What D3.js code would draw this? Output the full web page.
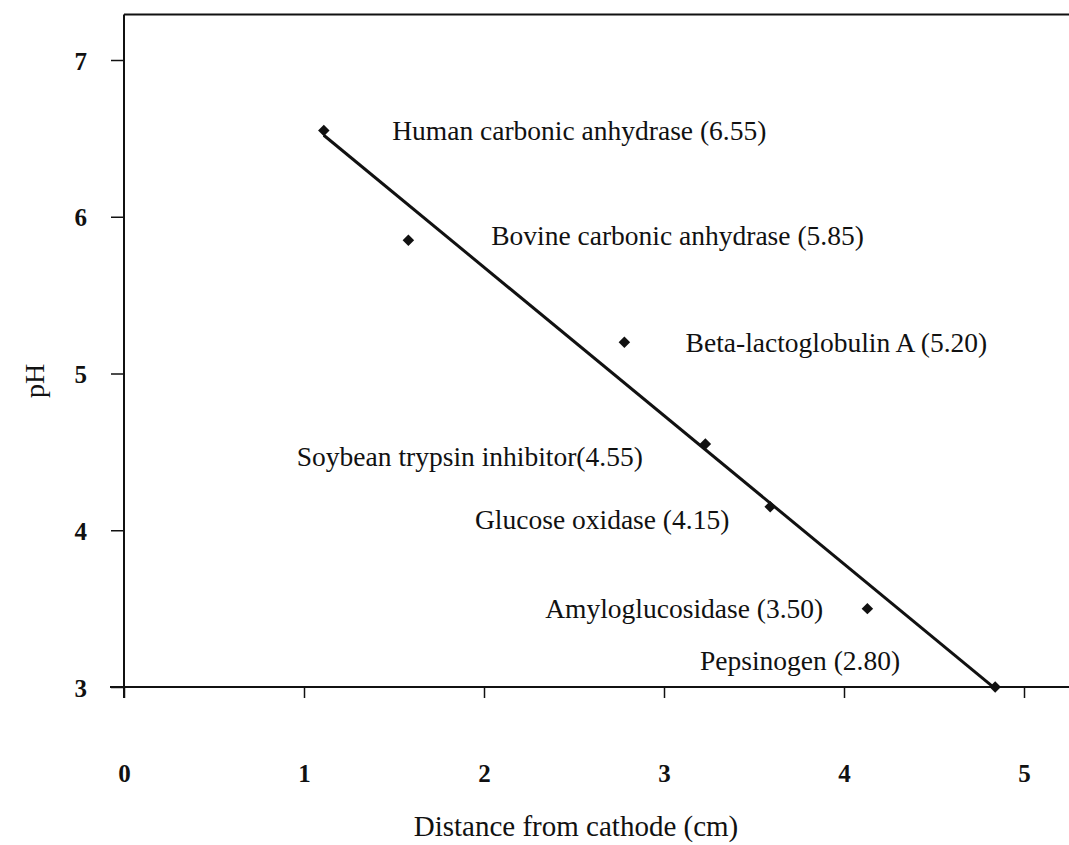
<!DOCTYPE html>
<html>
<head>
<meta charset="utf-8">
<script src="https://cdn.jsdelivr.net/npm/d3@7/dist/d3.min.js"></script>
<style>
  body { margin: 0; background: #fff; }
  svg { display: block; }
  text { font-family: "Liberation Serif", "Times New Roman", serif; fill: #111; }
  .tick text { font-weight: bold; font-size: 25px; }
</style>
</head>
<body>
<div id="chart"></div>
<script>
// proteins (pI standards)
var proteins = ['Human carbonic anhydrase', 'Bovine carbonic anhydrase', 'Beta-lactoglobulin A',
                'Soybean trypsin inhibitor', 'Glucose oxidase', 'Amyloglucosidase', 'Pepsinogen'];
var labelPI = ['6.55', '5.85', '5.20', '4.55', '4.15', '3.50', '2.80'];
var distance = [1.11, 1.58, 2.78, 3.23, 3.59, 4.13, 4.84];   // cm
var plotPH = [6.55, 5.85, 5.20, 4.55, 4.15, 3.50, 3.00];     // where the marker sits
// fitted line, ends
var fitX = [1.11, 4.84];
var fitY = [6.52, 2.99];
// label anchors in data units (left end of the text)
var labelX = [1.49, 2.04, 3.12, 0.96, 1.95, 2.34, 3.20];
var labelY = [6.55, 5.88, 5.20, 4.47, 4.07, 3.50, 3.17];
var xTicks = [0, 1, 2, 3, 4, 5];
var yTicks = [3, 4, 5, 6, 7];

var width = 1069, height = 845;
var margin = {top: 60, left: 124, right: 45, bottom: 158};

var svg = d3.select('#chart').append('svg')
    .attr('width', width)
    .attr('height', height);

var x = d3.scaleLinear().domain([0, 5]).range([margin.left, width - margin.right]);
var y = d3.scaleLinear().domain([3, 7]).range([height - margin.bottom, margin.top]);

// frame: top rule
svg.append('line')
    .attr('x1', x(0)).attr('x2', width)
    .attr('y1', y(7.29)).attr('y2', y(7.29))
    .attr('stroke', '#111').attr('stroke-width', 2);

// x axis on pH 3
var xAxis = svg.append('g')
    .attr('transform', 'translate(0,' + y(3) + ')')
    .call(d3.axisBottom(x).tickValues(xTicks).tickFormat(d3.format('d'))
        .tickSize(11).tickPadding(66).tickSizeOuter(0));
xAxis.select('.domain').remove();
xAxis.append('line')
    .attr('x1', x(0) - 14).attr('x2', width)
    .attr('stroke', '#111').attr('stroke-width', 2);
xAxis.selectAll('.tick line').attr('stroke', '#111').attr('stroke-width', 1.5);

// y axis
var yAxis = svg.append('g')
    .attr('transform', 'translate(' + x(0) + ',0)')
    .call(d3.axisLeft(y).tickValues(yTicks).tickFormat(d3.format('d'))
        .tickSize(13).tickPadding(24).tickSizeOuter(0));
yAxis.select('.domain').remove();
yAxis.append('line')
    .attr('y1', y(7.29)).attr('y2', y(3) + 11)
    .attr('stroke', '#111').attr('stroke-width', 2);
yAxis.selectAll('.tick line').attr('stroke', '#111').attr('stroke-width', 1.5);
yAxis.selectAll('.tick text').attr('dy', '0.36em');

// fitted line
svg.append('path')
    .datum(d3.zip(fitX, fitY))
    .attr('fill', 'none')
    .attr('stroke', '#111')
    .attr('stroke-width', 3)
    .attr('d', d3.line().x(function(d){ return x(d[0]); }).y(function(d){ return y(d[1]); }));

// markers: small square diamonds
svg.selectAll('.pt')
    .data(distance)
    .enter().append('path')
    .attr('class', 'pt')
    .attr('transform', function(d, i){
        return 'translate(' + x(d) + ',' + y(plotPH[i]) + ') rotate(45)';
    })
    .attr('d', d3.symbol().type(d3.symbolSquare).size(66))
    .attr('fill', '#111');

// protein labels
svg.selectAll('.lbl')
    .data(proteins)
    .enter().append('text')
    .attr('class', 'lbl')
    .attr('x', function(d, i){ return x(labelX[i]); })
    .attr('y', function(d, i){ return y(labelY[i]); })
    .attr('dy', '0.35em')
    .style('font-size', '27.5px')
    .text(function(d, i){
        // soybean label has no space before the bracket in the original
        return d + (i === 3 ? '(' : ' (') + labelPI[i] + ')';
    });

// axis titles
svg.append('text')
    .attr('x', 576).attr('y', 836)
    .attr('text-anchor', 'middle')
    .style('font-size', '29px')
    .text('Distance from cathode (cm)');

svg.append('text')
    .attr('transform', 'translate(44,' + 381 + ') rotate(-90)')
    .attr('text-anchor', 'middle')
    .style('font-size', '28px')
    .text('pH');
</script>
</body>
</html>
